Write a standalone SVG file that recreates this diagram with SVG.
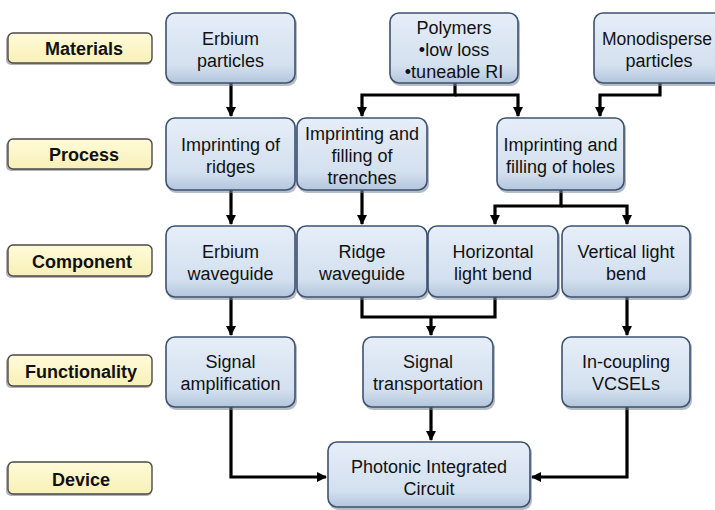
<svg xmlns="http://www.w3.org/2000/svg" width="715" height="510" viewBox="0 0 715 510">
<defs>
<linearGradient id="gb" x1="0" y1="0" x2="0" y2="1">
<stop offset="0" stop-color="#e6eef8"/>
<stop offset="0.75" stop-color="#d3e0ef"/>
<stop offset="1" stop-color="#b4c6dc"/>
</linearGradient>
<linearGradient id="gy" x1="0" y1="0" x2="0" y2="1">
<stop offset="0" stop-color="#fffbd8"/>
<stop offset="1" stop-color="#f8f0b8"/>
</linearGradient>
<marker id="ah" viewBox="0 0 10 10" refX="9" refY="5" markerWidth="3.2" markerHeight="3.2" orient="auto" markerUnits="strokeWidth">
<path d="M0,0 L10,5 L0,10 z" fill="#000"/>
</marker>
</defs>
<style>
.n rect.b{fill:url(#gb);stroke:#3d5270;stroke-width:1.6}
.n rect.s{fill:#7b8799;opacity:0.55}
.l rect.b{fill:url(#gy);stroke:#4a4a4a;stroke-width:1.4}
.l rect.s{fill:#666;opacity:0.5}
.n text{font-family:"Liberation Sans",Arial,sans-serif;font-size:18px;fill:#111;text-anchor:middle}
.l text{font-family:"Liberation Sans",Arial,sans-serif;font-size:18px;font-weight:bold;fill:#111;text-anchor:middle}
#connectors path{fill:none;stroke:#000;stroke-width:3.2}
</style>
<rect width="715" height="510" fill="#fff"/>

<g id="lab-materials" class="l"><rect class="s" x="6" y="35" width="146" height="30" rx="5"/><rect class="b" x="8" y="33" width="144" height="30" rx="5"/><text x="84" y="55">Materials</text></g>
<g id="lab-process" class="l"><rect class="s" x="6" y="141" width="146" height="30" rx="5"/><rect class="b" x="8" y="139" width="144" height="30" rx="5"/><text x="84" y="161">Process</text></g>
<g id="lab-component" class="l"><rect class="s" x="6" y="247" width="146" height="31" rx="5"/><rect class="b" x="8" y="245" width="144" height="31" rx="5"/><text x="82" y="268">Component</text></g>
<g id="lab-functionality" class="l"><rect class="s" x="6" y="357" width="146" height="31" rx="5"/><rect class="b" x="8" y="355" width="144" height="31" rx="5"/><text x="81" y="378">Functionality</text></g>
<g id="lab-device" class="l"><rect class="s" x="6" y="464" width="146" height="32" rx="5"/><rect class="b" x="8" y="462" width="144" height="32" rx="5"/><text x="81" y="486">Device</text></g>

<g id="connectors">
<path d="M231,83 V116" marker-end="url(#ah)"/>
<path d="M455,83 V95 H362 V116" marker-end="url(#ah)"/>
<path d="M455,95 H518 V116" marker-end="url(#ah)"/>
<path d="M660,83 V95 H600 V116" marker-end="url(#ah)"/>
<path d="M231,190 V224" marker-end="url(#ah)"/>
<path d="M362,190 V224" marker-end="url(#ah)"/>
<path d="M561,190 V206 H495 V224" marker-end="url(#ah)"/>
<path d="M561,206 H627 V224" marker-end="url(#ah)"/>
<path d="M231,297 V335" marker-end="url(#ah)"/>
<path d="M362,297 V317 H495 V297"/>
<path d="M431,317 V335" marker-end="url(#ah)"/>
<path d="M627,297 V335" marker-end="url(#ah)"/>
<path d="M231,407 V477 H326" marker-end="url(#ah)"/>
<path d="M431,407 V440" marker-end="url(#ah)"/>
<path d="M627,407 V477 H532" marker-end="url(#ah)"/>
</g>

<g id="n-erbium-particles" class="n"><rect class="s" x="167" y="15" width="130" height="71" rx="9"/><rect class="b" x="166" y="13" width="129" height="70" rx="9"/><text x="230.5" y="45">Erbium</text><text x="230.5" y="67">particles</text></g>
<g id="n-polymers" class="n"><rect class="s" x="391" y="15" width="129" height="71" rx="9"/><rect class="b" x="390" y="13" width="128" height="70" rx="9"/><text x="454" y="34">Polymers</text><text x="454" y="56">•low loss</text><text x="454" y="78">•tuneable RI</text></g>
<g id="n-monodisperse" class="n"><rect class="s" x="595" y="15" width="130" height="71" rx="9"/><rect class="b" x="594" y="13" width="129" height="70" rx="9"/><text x="657" y="45" style="font-size:17.5px">Monodisperse</text><text x="659" y="67">particles</text></g>

<g id="n-ridges" class="n"><rect class="s" x="167" y="120" width="130" height="73" rx="9"/><rect class="b" x="166" y="118" width="129" height="72" rx="9"/><text x="230.5" y="151">Imprinting of</text><text x="230.5" y="173">ridges</text></g>
<g id="n-trenches" class="n"><rect class="s" x="298" y="120" width="131" height="73" rx="9"/><rect class="b" x="297" y="118" width="130" height="72" rx="9"/><text x="362" y="140">Imprinting and</text><text x="362" y="162">filling of</text><text x="362" y="184">trenches</text></g>
<g id="n-holes" class="n"><rect class="s" x="498" y="120" width="128" height="73" rx="9"/><rect class="b" x="497" y="118" width="127" height="72" rx="9"/><text x="560.5" y="151">Imprinting and</text><text x="560.5" y="173">filling of holes</text></g>

<g id="n-erbium-waveguide" class="n"><rect class="s" x="167" y="228" width="130" height="72" rx="9"/><rect class="b" x="166" y="226" width="129" height="71" rx="9"/><text x="230.5" y="258">Erbium</text><text x="230.5" y="280">waveguide</text></g>
<g id="n-ridge-waveguide" class="n"><rect class="s" x="298" y="228" width="131" height="72" rx="9"/><rect class="b" x="297" y="226" width="130" height="71" rx="9"/><text x="362" y="258">Ridge</text><text x="362" y="280">waveguide</text></g>
<g id="n-horizontal" class="n"><rect class="s" x="429" y="228" width="131" height="72" rx="9"/><rect class="b" x="428" y="226" width="130" height="71" rx="9"/><text x="493" y="258">Horizontal</text><text x="493" y="280">light bend</text></g>
<g id="n-vertical" class="n"><rect class="s" x="563" y="228" width="129" height="72" rx="9"/><rect class="b" x="562" y="226" width="128" height="71" rx="9"/><text x="626" y="258">Vertical light</text><text x="626" y="280">bend</text></g>

<g id="n-amplification" class="n"><rect class="s" x="167" y="339" width="130" height="71" rx="9"/><rect class="b" x="166" y="337" width="129" height="70" rx="9"/><text x="230.5" y="368">Signal</text><text x="230.5" y="390">amplification</text></g>
<g id="n-transportation" class="n"><rect class="s" x="364" y="339" width="131" height="71" rx="9"/><rect class="b" x="363" y="337" width="130" height="70" rx="9"/><text x="428" y="368">Signal</text><text x="428" y="390">transportation</text></g>
<g id="n-incoupling" class="n"><rect class="s" x="563" y="339" width="129" height="71" rx="9"/><rect class="b" x="562" y="337" width="128" height="70" rx="9"/><text x="626" y="368">In-coupling</text><text x="626" y="390">VCSELs</text></g>

<g id="n-pic" class="n"><rect class="s" x="329" y="444" width="203" height="66" rx="9"/><rect class="b" x="328" y="442" width="202" height="65" rx="9"/><text x="429" y="473">Photonic Integrated</text><text x="429" y="495">Circuit</text></g>
</svg>
